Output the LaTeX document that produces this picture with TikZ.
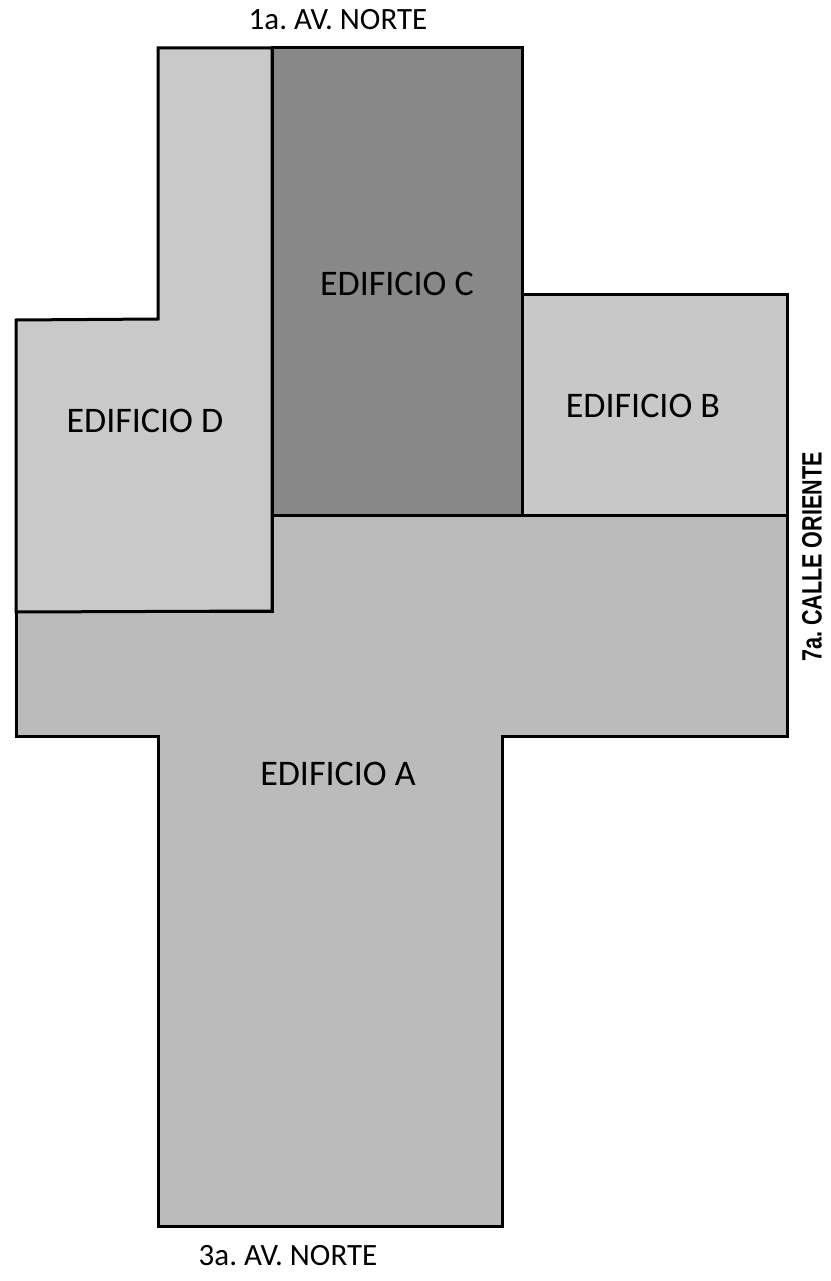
\documentclass[tikz,border=0pt]{standalone}
\usepackage{fontspec}
\usepackage{xcolor}
\usepackage{tikz}
\setmainfont{Carlito}
\newfontfamily\callefont{Liberation Sans}
\frenchspacing
\definecolor{grisA}{HTML}{BBBBBB}
\definecolor{grisB}{HTML}{C8C8C8}
\definecolor{grisC}{HTML}{888888}
\definecolor{grisD}{HTML}{C9C9C9}
\tikzstyle{edificio}=[draw=black,line width=3pt,line join=miter]
\tikzstyle{every node}=[font=\fontsize{36}{40}\selectfont,inner sep=0pt]
\tikzstyle{calle}=[font=\fontsize{31}{34}\selectfont]

\begin{document}
\begin{tikzpicture}[x=1pt,y=-1pt]
\useasboundingbox (0,0) rectangle (830,1281);

\begin{scope}
  % edificio A
  \draw[edificio,fill=grisA] (272,515) -- (787,515) -- (787,736) -- (502,736) -- (502,1226)
    -- (158,1226) -- (158,736) -- (16,736) -- (16,611) -- (272,611) -- cycle;
  % edificio D
  \draw[edificio,fill=grisD] (158,48) -- (272,48) -- (272,611) -- (16,612) -- (16,320)
    -- (158,319) -- cycle;
  % edificio C
  \draw[edificio,fill=grisC] (272,48) rectangle (522,515);
  % edificio B
  \draw[edificio,fill=grisB] (522,294) rectangle (787,515);
\end{scope}

\node (edA) at (338,774) {EDIFICIO A};
\node (edB) at (643,406) {EDIFICIO B};
\node (edC) at (397,284) {EDIFICIO C};
\node (edD) at (145,421) {EDIFICIO D};

\node[calle] (norte1) at (338,20) {1a. AV. NORTE};
\node[calle] (norte3) at (288,1256) {3a. AV. NORTE};
\node[font=\callefont\bfseries\fontsize{28}{30}\selectfont,rotate=90,xscale=0.77] (oriente) at (812,557) {7a. CALLE ORIENTE};

\end{tikzpicture}
\end{document}
